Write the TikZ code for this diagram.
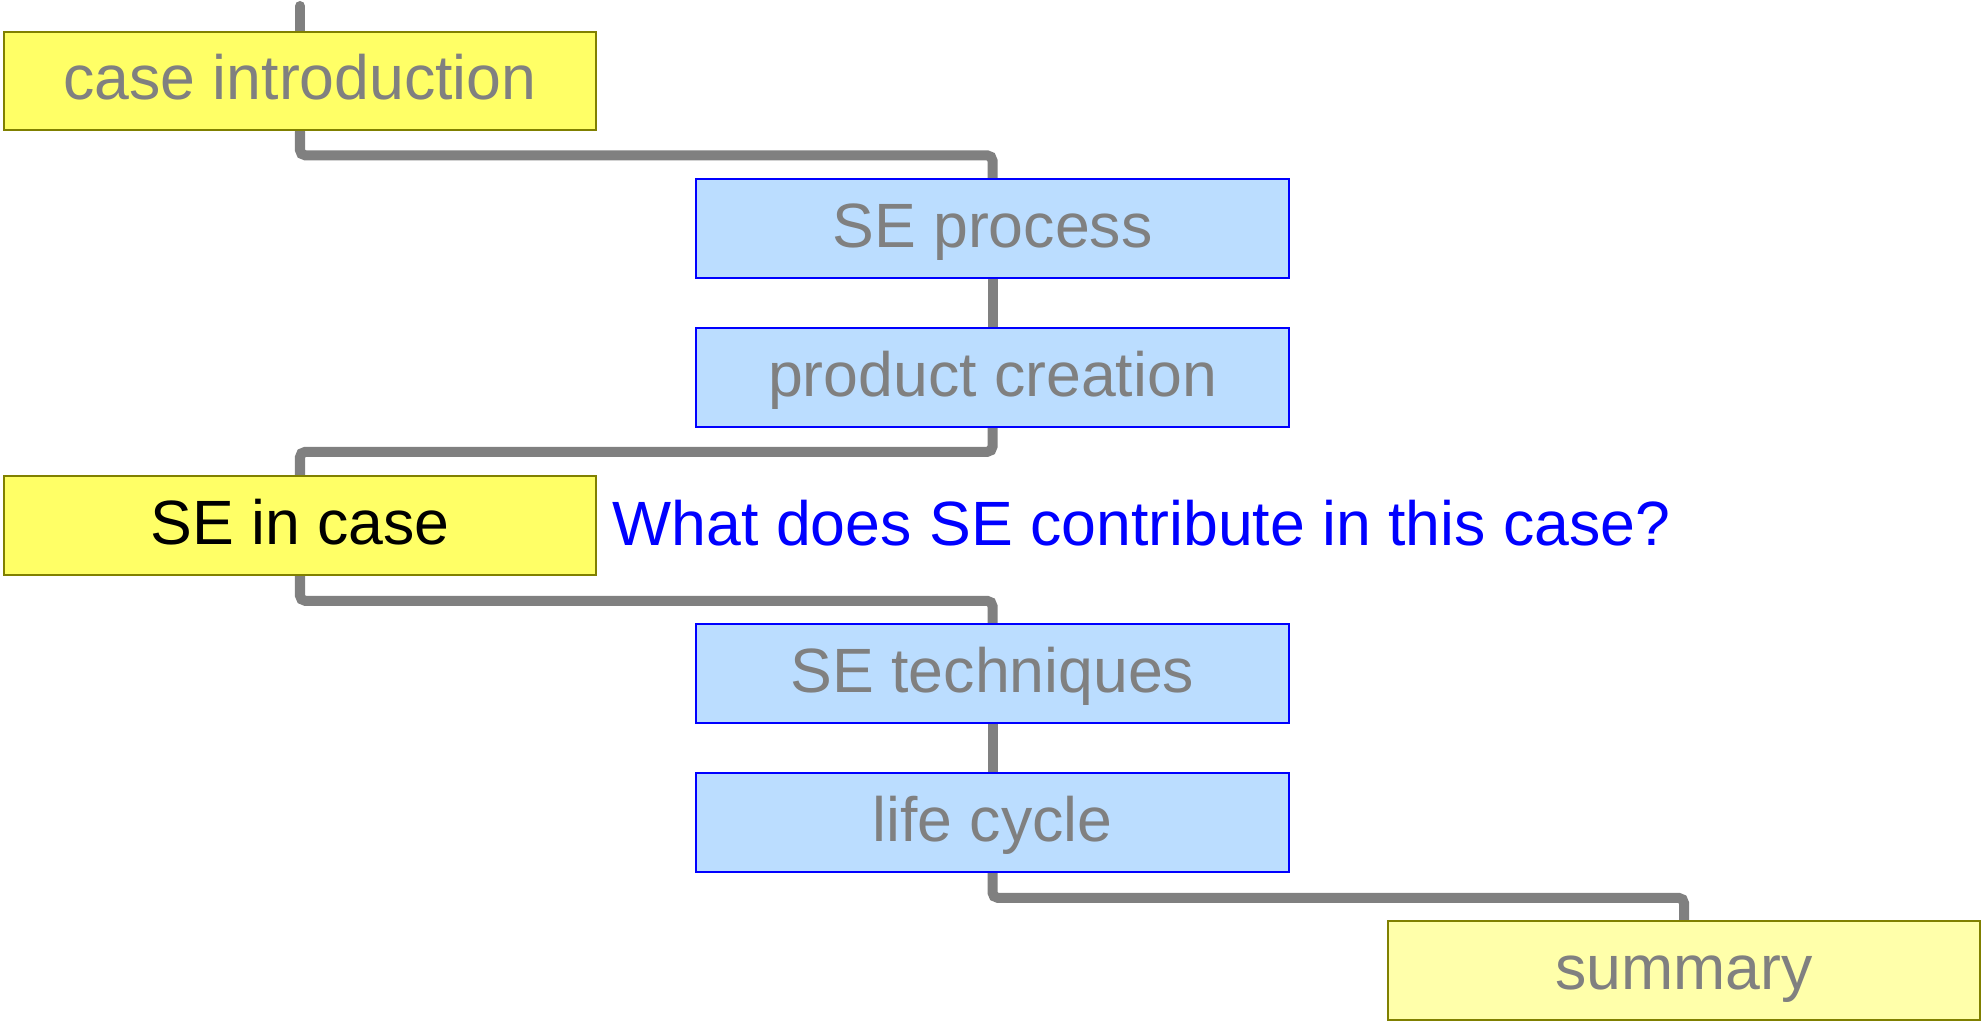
\documentclass[tikz,border=0pt]{standalone}
\usepackage{fontspec}
\setmainfont{Liberation Sans}
\usetikzlibrary{backgrounds}
\definecolor{caseyellow}{HTML}{FFFF66}
\definecolor{paleyellow}{HTML}{FFFFAA}
\definecolor{paleblue}{HTML}{BBDDFF}
\definecolor{boxolive}{HTML}{808000}
\definecolor{linkgray}{HTML}{808080}
\begin{document}
\begin{tikzpicture}[x=0.01cm,y=-0.01cm,
  box/.style={rectangle, minimum width=5.925cm, minimum height=0.985cm, inner sep=0pt, line width=0.6pt, text=linkgray, text height=12.8pt, text depth=2pt, font=\fontsize{17.8pt}{21pt}\selectfont},
  yellowbox/.style={box, draw=boxolive, fill=caseyellow},
  summarybox/.style={box, draw=boxolive, fill=paleyellow},
  bluebox/.style={box, draw=blue, fill=paleblue},
  link/.style={draw=linkgray, line width=0.1cm, line cap=round, rounded corners=1.5pt}]
  \useasboundingbox (0,0) rectangle (1981,1021);
  \coordinate (top) at (300,6);
  \node [yellowbox] (intro) at (300,81) {case introduction};
  \node [bluebox] (process) at (992.5,228.5) {SE process};
  \node [bluebox] (creation) at (992.5,377.5) {product creation};
  \node [yellowbox, text=black] (secase) at (300,525.5) {SE in case};
  \node [anchor=west, inner sep=0pt, text=blue, font=\fontsize{17.8pt}{21pt}\selectfont] (question) at (612,523.5) {What does SE contribute in this case?};
  \node [bluebox] (techniques) at (992.5,673.5) {SE techniques};
  \node [bluebox] (lifecycle) at (992.5,822.5) {life cycle};
  \node [summarybox] (summary) at (1684,970.5) {summary};
  \begin{scope}[on background layer]
    \draw [link] (top) -- (intro.north);
    \draw [link] (intro.south) -- ++(0,24) -| (process.north);
    \draw [link] (process.south) -- (creation.north);
    \draw [link] (creation.south) -- ++(0,24) -| (secase.north);
    \draw [link] (secase.south) -- ++(0,25) -| (techniques.north);
    \draw [link] (techniques.south) -- (lifecycle.north);
    \draw [link] (lifecycle.south) -- ++(0,25) -| (summary.north);
  \end{scope}
\end{tikzpicture}
\end{document}
